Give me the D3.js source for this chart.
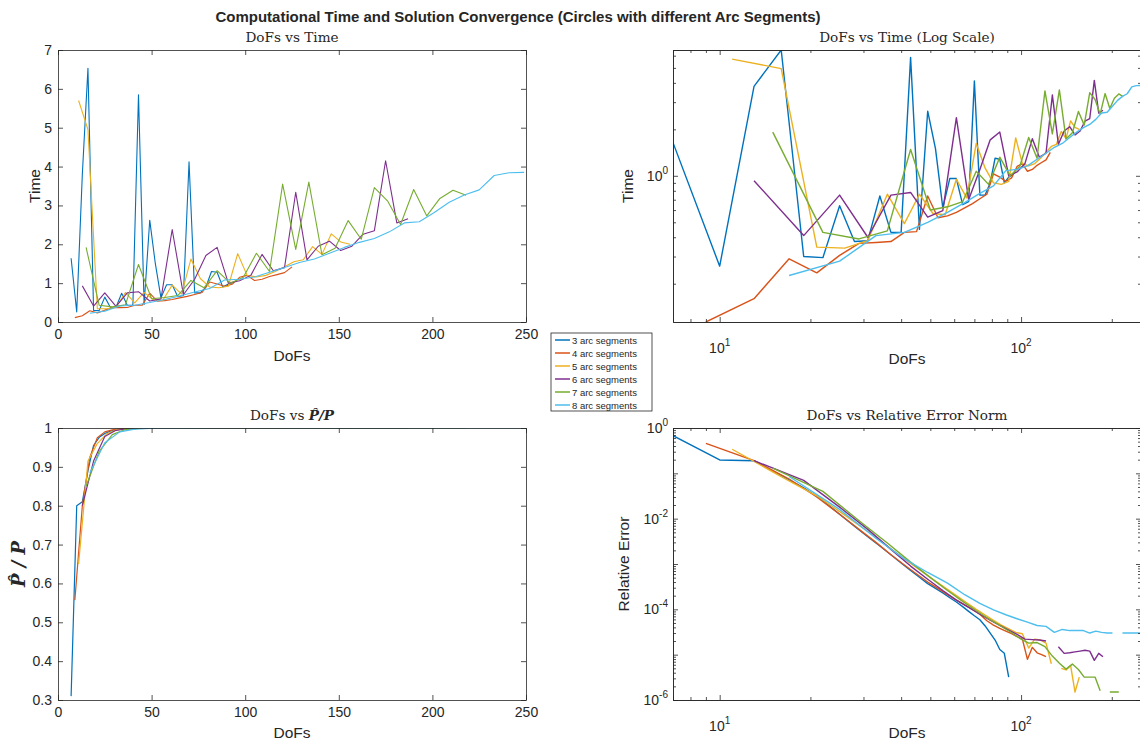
<!DOCTYPE html>
<html>
<head>
<meta charset="utf-8">
<script src="https://cdn.jsdelivr.net/npm/d3@7"></script>
<style>
body { margin: 0; background: #fff; }
svg text { font-family: "Liberation Sans", Arial, sans-serif; fill: #262626; }
.axis path, .axis line { stroke: #262626; stroke-width: 0.8; }
.axis text { font-size: 14px; font-family: "Liberation Sans", Arial, sans-serif; fill: #262626; }
.serif { font-family: "DejaVu Serif", serif; }
</style>
</head>
<body>
<div class="chart"></div>
<script>

/*-------------------------------------DATA-------------------------------------*/

const NAMES = ["3 arc segments", "4 arc segments", "5 arc segments", "6 arc segments", "7 arc segments", "8 arc segments"];
const COLORS = ["#0072BD", "#D95319", "#EDB120", "#7E2F8E", "#77AC30", "#4DBEEE"];

// degrees of freedom per refinement step
const DOFS_3 = [7,10,13,16,19,22,25,28,31,34,37,40,43,46,49,52,55,58,61,64,67,70,73,76,79,82,85,88,91,94];
const DOFS_4 = [9,13,17,21,25,29,33,37,41,45,49,53,57,61,65,69,73,77,81,85,89,93,97,101,105,109,113,117,121,125];
const DOFS_5 = [11,16,21,26,31,36,41,46,51,56,61,66,71,76,81,86,91,96,101,106,111,116,121,126,131,136,141,146,151,156];
const DOFS_6 = [13,19,25,31,37,43,49,55,61,67,73,79,85,91,97,103,109,115,121,127,133,139,145,151,157,163,169,175,181,187];
const DOFS_7 = [15,22,29,36,43,50,57,64,71,78,85,92,99,106,113,120,127,134,141,148,155,162,169,176,183,190,197,204,211,218];
const DOFS_8 = [17,25,33,41,49,57,65,73,81,89,97,105,113,121,129,137,145,153,161,169,177,185,193,201,209,217,225,233,241,249];

// computational time
const TIME_3 = [1.64,0.26,3.8,6.53,0.30,0.295,0.64,0.375,0.38,0.74,0.43,0.43,5.85,0.45,2.62,1.5,0.62,0.96,0.96,0.65,0.68,4.12,0.75,0.75,0.9,1.3,1.28,0.9,0.98,1.02];
const TIME_4 = [0.113,0.16,0.29,0.235,0.305,0.365,0.37,0.375,0.43,0.435,0.74,0.535,0.55,0.58,0.62,0.66,0.71,0.76,1.03,0.98,0.92,0.97,1.15,1.2,1.07,1.1,1.17,1.22,1.27,1.42];
const TIME_5 = [5.7,4.95,0.345,0.34,0.38,0.76,0.49,0.76,0.57,0.56,0.95,0.72,1.62,1.12,0.9,0.88,0.92,1.76,1.2,1.16,1.2,1.3,1.42,1.55,1.6,1.94,1.74,2.27,2.06,2.0];
const TIME_6 = [0.93,0.41,0.75,0.40,0.75,0.78,0.54,0.595,2.38,0.70,1.1,1.71,1.92,1.0,1.06,1.2,1.74,1.32,1.4,3.34,1.6,1.95,2.08,1.84,1.95,2.26,2.35,4.15,2.55,2.66];
const TIME_7 = [1.92,0.43,0.39,0.44,1.48,0.6,0.63,0.68,1.07,0.88,1.32,1.0,1.15,1.77,1.3,3.55,1.87,3.6,1.73,1.9,2.61,2.13,3.46,3.12,2.51,3.41,2.73,3.18,3.39,3.26];
const TIME_8 = [0.226,0.28,0.41,0.43,0.50,0.58,0.67,0.77,0.86,1.08,1.1,1.16,1.28,1.4,1.53,1.62,1.77,1.92,2.05,2.15,2.32,2.55,2.58,2.82,3.08,3.27,3.4,3.77,3.84,3.85];

// P-hat / P
const RATIO_3 = [0.31,0.80,0.81,0.89,0.955,0.976,0.986,0.992,0.995,0.997,0.998,0.999,0.9994,0.9996,0.9997,0.9998,0.9999,0.9999,0.9999,1,1,1,1,1,1,1,1,1,1,1];
const RATIO_4 = [0.557,0.80,0.925,0.975,0.99,0.995,0.998,0.999,0.9995,0.9997,0.9998,0.9999,0.9999,1,1,1,1,1,1,1,1,1,1,1,1,1,1,1,1,1];
const RATIO_5 = [0.65,0.915,0.96,0.985,0.995,0.998,0.999,0.9995,0.9997,0.9998,0.9999,1,1,1,1,1,1,1,1,1,1,1,1,1,1,1,1,1,1,1];
const RATIO_6 = [0.80,0.915,0.978,0.994,0.998,0.999,0.9995,0.9998,0.9999,1,1,1,1,1,1,1,1,1,1,1,1,1,1,1,1,1,1,1,1,1];
const RATIO_7 = [0.85,0.94,0.983,0.996,0.999,0.9995,0.9998,0.9999,1,1,1,1,1,1,1,1,1,1,1,1,1,1,1,1,1,1,1,1,1,1];
const RATIO_8 = [0.885,0.962,0.99,0.997,0.999,0.9996,0.9998,0.9999,1,1,1,1,1,1,1,1,1,1,1,1,1,1,1,1,1,1,1,1,1,1];

// relative error norm (null = not plotted)
const ERR_3 = [0.68,0.197,0.19,0.09,0.048,0.025,0.0125,0.0068,0.0040,0.0025,0.0016,0.00105,7.2e-4,5.1e-4,3.7e-4,2.9e-4,2.3e-4,1.8e-4,1.45e-4,1.15e-4,9e-5,7.2e-5,5.9e-5,4.3e-5,3e-5,2.1e-5,1.3e-5,1.07e-5,3.2e-6,null];
const ERR_4 = [0.46,0.19,0.075,0.03,0.0125,0.0058,0.003,0.0016,9.5e-4,6e-4,4e-4,2.9e-4,2.1e-4,1.6e-4,1.25e-4,1.0e-4,7.8e-5,5.6e-5,4.5e-5,3.8e-5,3.3e-5,2.9e-5,2.5e-5,2.2e-5,7.9e-6,1.45e-5,1.1e-5,1.0e-5,9e-6,null];
const ERR_5 = [0.34,0.085,0.032,0.012,0.0052,0.0025,0.0013,7.5e-4,4.6e-4,3.0e-4,2.0e-4,1.4e-4,1.0e-4,7.5e-5,5.7e-5,4.5e-5,3.7e-5,3.1e-5,2.9e-5,1.4e-5,2.2e-5,2.1e-5,1.8e-5,6.3e-6,null,5e-6,4.6e-6,5.8e-6,1.5e-6,3.2e-6];
const ERR_6 = [0.19,0.07,0.018,0.0058,0.0021,9e-4,4.6e-4,2.6e-4,1.6e-4,1.1e-4,7.8e-5,5.8e-5,4.4e-5,3.5e-5,2.8e-5,2.2e-5,2.15e-5,2.1e-5,2.0e-5,null,1.5e-5,1.07e-5,1.1e-5,1.15e-5,1.2e-5,1.25e-5,1.2e-5,7.5e-6,1.07e-5,9e-6];
const ERR_7 = [0.13,0.04,0.009,0.0029,0.0011,5e-4,2.6e-4,1.5e-4,9.3e-5,6.2e-5,4.4e-5,3.2e-5,2.3e-5,1.8e-5,1.85e-5,1.5e-5,9.3e-6,6.5e-6,4.8e-6,6.2e-6,4.7e-6,3.2e-6,3.2e-6,3.2e-6,1.6e-6,null,1.5e-6,1.5e-6,1.5e-6,null];
const ERR_8 = [0.085,0.016,0.0037,0.0013,6.5e-4,3.8e-4,2.1e-4,1.35e-4,9.7e-5,7.6e-5,6.2e-5,5.2e-5,4.4e-5,4.2e-5,3.1e-5,3.6e-5,3.4e-5,3.4e-5,3.4e-5,3.0e-5,3.3e-5,3.1e-5,3.0e-5,3.0e-5,null,3.0e-5,3.0e-5,3.0e-5,3.0e-5,3.0e-5];

// tick labels
const X_TICKS = [0, 50, 100, 150, 200, 250];
const TIME_TICKS = [0, 1, 2, 3, 4, 5, 6, 7];
const RATIO_TICKS = [0.3, 0.4, 0.5, 0.6, 0.7, 0.8, 0.9, 1];
const LOG_X_LABELS = [10, 100];
const TIME_LOG_LABELS = [1];
const ERR_LABELS = [1, 1e-2, 1e-4, 1e-6];

const DOFS = [DOFS_3, DOFS_4, DOFS_5, DOFS_6, DOFS_7, DOFS_8];
const TIME = [TIME_3, TIME_4, TIME_5, TIME_6, TIME_7, TIME_8];
const RATIO = [RATIO_3, RATIO_4, RATIO_5, RATIO_6, RATIO_7, RATIO_8];
const ERR = [ERR_3, ERR_4, ERR_5, ERR_6, ERR_7, ERR_8];


/*-------------------------------------INIT-------------------------------------*/

const CHART__WIDTH = 1140;
const CHART__HEIGHT = 743;
const PLOT_W = 468;
const PLOT_H = 272;

const SVG = d3.select(".chart").append("svg")
    .attr("width", CHART__WIDTH)
    .attr("height", CHART__HEIGHT);

SVG.append("rect").attr("width", CHART__WIDTH).attr("height", CHART__HEIGHT).attr("fill", "#fff");

SVG.append("text")
    .attr("x", 518)
    .attr("y", 22)
    .attr("text-anchor", "middle")
    .attr("font-weight", "bold")
    .attr("font-size", "15px")
    .text("Computational Time and Solution Convergence (Circles with different Arc Segments)");

const seriesOf = (values) => DOFS.map((xs, i) => xs.map((d, j) => ({x: d, v: values[i][j]})));

const superLabel = (sel, v, anchor) => {
    const e = Math.round(Math.log10(v));
    sel.append("tspan").text("10");
    sel.append("tspan").attr("dy", -7).attr("font-size", "10px").text(e < 0 ? "-" + Math.abs(e) : e);
    sel.attr("text-anchor", anchor);
};


/*-------------------------------------PANEL-------------------------------------*/

const drawPanel = (o) => {

    const g = SVG.append("g").attr("transform", `translate(${o.left},${o.top})`);

    g.append("clipPath").attr("id", o.id)
        .append("rect").attr("width", PLOT_W).attr("height", PLOT_H);

    const x = o.xLog
        ? d3.scaleLog().domain([7, 250]).range([0, PLOT_W])
        : d3.scaleLinear().domain([0, 250]).range([0, PLOT_W]);
    const y = o.yLog
        ? d3.scaleLog().domain(o.yDomain).range([PLOT_H, 0])
        : d3.scaleLinear().domain(o.yDomain).range([PLOT_H, 0]);

    // data lines
    const line = d3.line()
        .defined(d => d.v != null && (!o.yLog || d.v > 0))
        .x(d => x(d.x))
        .y(d => y(d.v));

    g.append("g").attr("clip-path", `url(#${o.id})`)
        .selectAll("path")
        .data(seriesOf(o.values))
        .join("path")
        .attr("d", line)
        .attr("fill", "none")
        .attr("stroke", (d, i) => COLORS[i])
        .attr("stroke-width", o.lineWidth)
        .attr("stroke-linejoin", "round");

    // axes (ticks inside, box all round)
    const xMajor = o.xLog ? x.ticks().filter(v => Number.isInteger(Math.log10(v))) : X_TICKS;
    const yMajor = o.yLog ? y.ticks().filter(v => Math.abs(Math.log10(v) - Math.round(Math.log10(v))) < 1e-9) : o.yTicks;

    const bottom = g.append("g").attr("class", "axis").attr("transform", `translate(0,${PLOT_H})`)
        .call(d3.axisBottom(x).tickValues(xMajor).tickSize(-5).tickSizeOuter(0).tickPadding(7)
            .tickFormat(o.xLog ? "" : d3.format("d")));
    g.append("g").attr("class", "axis")
        .call(d3.axisTop(x).tickValues(xMajor).tickSize(-5).tickSizeOuter(0).tickFormat(""));
    const left = g.append("g").attr("class", "axis")
        .call(d3.axisLeft(y).tickValues(yMajor).tickSize(-5).tickSizeOuter(0).tickPadding(6)
            .tickFormat(o.yLog ? "" : (d => String(+d.toFixed(1)))));
    g.append("g").attr("class", "axis").attr("transform", `translate(${PLOT_W},0)`)
        .call(d3.axisRight(y).tickValues(yMajor).tickSize(-5).tickSizeOuter(0).tickFormat(""));

    if (o.xLog) {
        const minor = x.ticks().filter(v => !xMajor.includes(v));
        g.append("g").attr("class", "axis").attr("transform", `translate(0,${PLOT_H})`)
            .call(d3.axisBottom(x).tickValues(minor).tickSize(-3).tickSizeOuter(0).tickFormat(""));
        g.append("g").attr("class", "axis")
            .call(d3.axisTop(x).tickValues(minor).tickSize(-3).tickSizeOuter(0).tickFormat(""));
        bottom.selectAll(".lbl").data(LOG_X_LABELS).join("text")
            .attr("class", "lbl")
            .attr("x", d => x(d))
            .attr("y", 31)
            .attr("font-size", "14px")
            .each(function (d) { superLabel(d3.select(this), d, "middle"); });
    }

    if (o.yLog) {
        const minor = y.ticks().filter(v => !yMajor.includes(v));
        g.append("g").attr("class", "axis")
            .call(d3.axisLeft(y).tickValues(minor).tickSize(-3).tickSizeOuter(0).tickFormat(""));
        g.append("g").attr("class", "axis").attr("transform", `translate(${PLOT_W},0)`)
            .call(d3.axisRight(y).tickValues(minor).tickSize(-3).tickSizeOuter(0).tickFormat(""));
        left.selectAll(".lbl").data(o.yLabels).join("text")
            .attr("class", "lbl")
            .attr("x", -5)
            .attr("y", d => y(d) + 5)
            .attr("font-size", "14px")
            .each(function (d) { superLabel(d3.select(this), d, "end"); });
    }

    // titles and labels
    const title = g.append("text")
        .attr("class", "serif")
        .attr("x", PLOT_W / 2)
        .attr("y", -8)
        .attr("text-anchor", "middle")
        .attr("font-size", "13.6px");
    title.append("tspan").text(o.title);
    if (o.titleMath) {
        title.append("tspan").attr("font-weight", "bold").attr("font-style", "italic").text(o.titleMath);
    }

    g.append("text")
        .attr("x", PLOT_W / 2)
        .attr("y", PLOT_H + o.xLabelDy)
        .attr("text-anchor", "middle")
        .attr("font-size", "15.5px")
        .text("DoFs");

    const yl = g.append("text")
        .attr("transform", `translate(${o.yLabelX},${PLOT_H / 2}) rotate(-90)`)
        .attr("text-anchor", "middle")
        .attr("font-size", o.yLabelMath ? "18px" : "15.5px")
        .text(o.yLabel);
    if (o.yLabelMath) {
        yl.attr("class", "serif").attr("font-weight", "bold").attr("font-style", "italic");
    }
};

drawPanel({
    id: "clipTL", left: 58, top: 50,
    values: TIME, yDomain: [0, 7], yTicks: TIME_TICKS, xLabelDy: 39,
    title: "DoFs vs Time", yLabel: "Time", yLabelX: -18, lineWidth: 1.1
});

drawPanel({
    id: "clipTR", left: 673, top: 50, xLog: true, yLog: true,
    values: TIME, yDomain: [0.113, 6.53], yLabels: TIME_LOG_LABELS, xLabelDy: 42,
    title: "DoFs vs Time (Log Scale)", yLabel: "Time", yLabelX: -40, lineWidth: 1.4
});

drawPanel({
    id: "clipBL", left: 58, top: 428,
    values: RATIO, yDomain: [0.3, 1], yTicks: RATIO_TICKS, xLabelDy: 38,
    title: "DoFs vs ", titleMath: "P\u0302/P", yLabel: "P\u0302 / P", yLabelMath: true, yLabelX: -33, lineWidth: 1.2
});

drawPanel({
    id: "clipBR", left: 673, top: 428, xLog: true, yLog: true,
    values: ERR, yDomain: [1e-6, 1], yLabels: ERR_LABELS, xLabelDy: 38,
    title: "DoFs vs Relative Error Norm", yLabel: "Relative Error", yLabelX: -44, lineWidth: 1.4
});


/*-------------------------------------LEGEND-------------------------------------*/

const legend = SVG.append("g").attr("transform", "translate(551,333)");

legend.append("rect")
    .attr("width", 101)
    .attr("height", 78)
    .attr("fill", "#fff")
    .attr("stroke", "#262626")
    .attr("stroke-width", 0.8);

const item = legend.selectAll(".item").data(NAMES).join("g")
    .attr("class", "item")
    .attr("transform", (d, i) => `translate(0,${7 + i * 13})`);

item.append("line")
    .attr("x1", 4).attr("x2", 19)
    .attr("stroke", (d, i) => COLORS[i])
    .attr("stroke-width", 1.5);

item.append("text")
    .attr("x", 21)
    .attr("y", 3.5)
    .attr("font-size", "9.5px")
    .text(d => d);

</script>
</body>
</html>
